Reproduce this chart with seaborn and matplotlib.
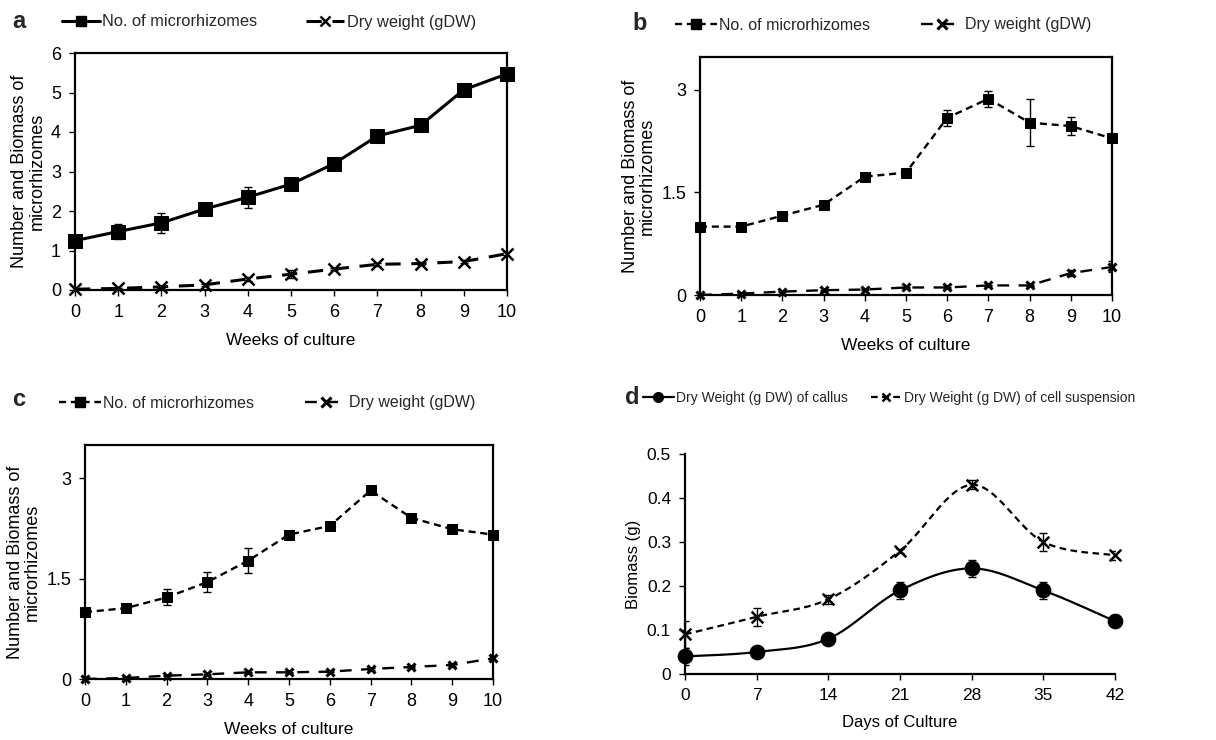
import numpy as np
import pandas as pd
import seaborn as sns
import matplotlib.pyplot as plt
from matplotlib.lines import Line2D

weeks = list(range(11))

# panel a
a_count = [1.25, 1.48, 1.70, 2.05, 2.35, 2.68, 3.20, 3.90, 4.17, 5.07, 5.47]
a_count_err = [0.05, 0.18, 0.25, 0.10, 0.27, 0.10, 0.05, 0.05, 0.05, 0.05, 0.05]
a_dw = [0.02, 0.04, 0.08, 0.13, 0.28, 0.40, 0.53, 0.65, 0.67, 0.72, 0.92]
a_dw_err = [0.01, 0.01, 0.02, 0.02, 0.05, 0.10, 0.03, 0.03, 0.03, 0.03, 0.03]

# panel b
b_count = [1.00, 1.00, 1.16, 1.32, 1.73, 1.79, 2.59, 2.87, 2.52, 2.47, 2.29]
b_count_err = [0.02, 0.02, 0.05, 0.05, 0.06, 0.05, 0.12, 0.12, 0.34, 0.13, 0.03]
b_dw = [0.00, 0.02, 0.05, 0.07, 0.08, 0.11, 0.11, 0.14, 0.14, 0.32, 0.41]
b_dw_err = [0.0, 0.01, 0.01, 0.01, 0.01, 0.01, 0.01, 0.01, 0.01, 0.04, 0.08]

# panel c
c_count = [1.00, 1.06, 1.22, 1.45, 1.77, 2.16, 2.29, 2.82, 2.41, 2.24, 2.16]
c_count_err = [0.02, 0.02, 0.12, 0.15, 0.19, 0.02, 0.02, 0.02, 0.02, 0.02, 0.02]
c_dw = [0.00, 0.015, 0.05, 0.07, 0.10, 0.10, 0.11, 0.15, 0.18, 0.21, 0.31]
c_dw_err = [0.0, 0.01, 0.01, 0.01, 0.01, 0.01, 0.01, 0.01, 0.01, 0.01, 0.01]

# panel d
days = [0, 7, 14, 21, 28, 35, 42]
d_callus = [0.04, 0.05, 0.08, 0.19, 0.24, 0.19, 0.12]
d_callus_err = [0.02, 0.005, 0.005, 0.02, 0.02, 0.02, 0.005]
d_susp = [0.09, 0.13, 0.17, 0.28, 0.43, 0.30, 0.27]
d_susp_err = [0.03, 0.02, 0.01, 0.005, 0.01, 0.02, 0.01]

sns.set_theme(style='ticks')
plt.rcParams['font.family'] = ['Liberation Sans', 'DejaVu Sans']

fig = plt.figure(figsize=(12.16, 7.4), dpi=100)
W, H = 1216, 740


def add_axes(l, t, r, b):
    return fig.add_axes([l / W, 1 - b / H, (r - l) / W, (b - t) / H])


def smooth(x, y, n=30):
    # Bezier smoothing like spreadsheet "smoothed line"
    p = np.column_stack([x, y]).astype(float)
    pts = np.vstack([p[0], p, p[-1]])
    out = []
    t = np.linspace(0, 1, n)[:, None]
    for i in range(1, len(pts) - 2):
        p0, p1, p2, p3 = pts[i - 1], pts[i], pts[i + 1], pts[i + 2]
        c1 = p1 + (p2 - p0) / 6
        c2 = p2 - (p3 - p1) / 6
        seg = (1 - t) ** 3 * p1 + 3 * (1 - t) ** 2 * t * c1 + 3 * (1 - t) * t ** 2 * c2 + t ** 3 * p2
        out.append(seg)
    out = np.vstack(out)
    return out[:, 0], out[:, 1]


def weeks_panel(ax, count, count_err, dw, dw_err, ymax, yticks, cstyle, dstyle, big):
    df = pd.DataFrame({'week': weeks, 'count': count, 'dw': dw})
    lw = 2.2 if big else 1.7
    sq = 10 if big else 7.5
    xm = 9 if big else 5.5
    xmw = 1.8 if big else 2.2
    ax.errorbar(weeks, count, yerr=count_err, fmt='none', ecolor='black', elinewidth=1, capsize=3, zorder=2)
    ax.errorbar(weeks, dw, yerr=dw_err, fmt='none', ecolor='black', elinewidth=1, capsize=3, zorder=2)
    sns.lineplot(data=df, x='week', y='count', ax=ax, color='black', linewidth=lw,
                 marker='s', markersize=sq, markeredgecolor='black', clip_on=False, zorder=3)
    if cstyle:
        ax.lines[-1].set_dashes(cstyle)
    sns.lineplot(data=df, x='week', y='dw', ax=ax, color='black', linewidth=lw,
                 marker='x', markersize=xm, markeredgewidth=xmw, markeredgecolor='black', clip_on=False, zorder=3)
    ax.lines[-1].set_dashes(dstyle)
    ax.set_xlim(0, 10)
    ax.set_ylim(0, ymax)
    ax.set_xticks(weeks)
    ax.set_yticks(yticks)
    ax.set_yticklabels([f'{v:g}' for v in yticks])
    ax.tick_params(labelsize=13, length=4, width=1, color='black', labelcolor='black', pad=6)
    ax.set_xlabel('Weeks of culture', fontsize=12.5, color='black', labelpad=9)
    ax.set_ylabel('Number and Biomass of\nmicrorhizomes', fontsize=13, color='black', linespacing=1.0)
    for s in ax.spines.values():
        s.set_color('black')
        s.set_linewidth(1.6)
    ax.grid(False)
    h1 = Line2D([], [], color='black', linewidth=lw, marker='s', markersize=7)
    if cstyle:
        h1.set_dashes(cstyle)
    h2 = Line2D([], [], color='black', linewidth=lw, marker='x', markersize=7, markeredgewidth=xmw)
    h2.set_dashes(dstyle)
    return h1, h2


def top_legend(handles, labels, x, y, size, hl, cs):
    fig.legend(handles, labels, loc='center left', bbox_to_anchor=(x / W, 1 - y / H), ncol=2,
               frameon=False, fontsize=size, handlelength=hl, handletextpad=0.15,
               columnspacing=cs, borderpad=0, borderaxespad=0)


# panel a
ax_a = add_axes(75, 53, 507, 290)
h1, h2 = weeks_panel(ax_a, a_count, a_count_err, a_dw, a_dw_err, 6, [0, 1, 2, 3, 4, 5, 6],
                     None, (5, 3.5), True)
top_legend([h1, h2], ['No. of microrhizomes', 'Dry weight (gDW)'], 62, 22, 11.8, 2.3, 3.0)
fig.text(12 / W, 1 - 22 / H, 'a', fontsize=17, fontweight='bold', va='center')

# panel b
ax_b = add_axes(700, 57, 1112, 295)
h1, h2 = weeks_panel(ax_b, b_count, b_count_err, b_dw, b_dw_err, 3.48, [0, 1.5, 3],
                     (3, 2), (5, 4), False)
top_legend([h1, h2], ['No. of microrhizomes', 'Dry weight (gDW)'], 675, 25, 11.5, 2.6, 3.2)
fig.text(632 / W, 1 - 24 / H, 'b', fontsize=17, fontweight='bold', va='center')

# panel c
ax_c = add_axes(85, 445, 493, 679)
h1, h2 = weeks_panel(ax_c, c_count, c_count_err, c_dw, c_dw_err, 3.5, [0, 1.5, 3],
                     (3, 2), (5, 4), False)
top_legend([h1, h2], ['No. of microrhizomes', 'Dry weight (gDW)'], 59, 403, 11.5, 2.6, 3.2)
fig.text(12 / W, 1 - 400 / H, 'c', fontsize=17, fontweight='bold', va='center')

# panel d
ax_d = add_axes(685, 454, 1115, 674)
ax_d.errorbar(days, d_callus, yerr=d_callus_err, fmt='none', ecolor='black', elinewidth=1, capsize=3, zorder=2)
ax_d.errorbar(days, d_susp, yerr=d_susp_err, fmt='none', ecolor='black', elinewidth=1, capsize=3, zorder=2)
sx, sy = smooth(days, d_callus)
ax_d.plot(sx, sy, color='black', linewidth=1.6, zorder=3)
sx, sy = smooth(days, d_susp)
ax_d.plot(sx, sy, color='black', linewidth=1.6, dashes=(3, 2), zorder=3)
ddf = pd.DataFrame({'day': days, 'callus': d_callus, 'susp': d_susp})
sns.scatterplot(data=ddf, x='day', y='callus', ax=ax_d, marker='o', s=110, color='black',
                edgecolor='black', clip_on=False, zorder=4)
sns.scatterplot(data=ddf, x='day', y='susp', ax=ax_d, marker='x', s=70, color='black',
                linewidth=1.8, clip_on=False, zorder=4)
ax_d.set_xlim(0, 42)
ax_d.set_ylim(0, 0.5)
ax_d.set_xticks(days)
ax_d.set_yticks([0, 0.1, 0.2, 0.3, 0.4, 0.5])
ax_d.set_yticklabels(['0', '0.1', '0.2', '0.3', '0.4', '0.5'])
ax_d.tick_params(labelsize=12.5, length=4, width=1, color='black', labelcolor='black', pad=6)
ax_d.set_xlabel('Days of Culture', fontsize=12, color='black', labelpad=9)
ax_d.set_ylabel('Biomass (g)', fontsize=12, color='black')
sns.despine(ax=ax_d)
for s in ['left', 'bottom']:
    ax_d.spines[s].set_color('black')
    ax_d.spines[s].set_linewidth(1.6)
h1 = Line2D([], [], color='black', linewidth=1.6, marker='o', markersize=7)
h2 = Line2D([], [], color='black', linewidth=1.6, marker='x', markersize=6, markeredgewidth=1.8, dashes=(3, 2))
top_legend([h1, h2], ['Dry Weight (g DW) of callus', 'Dry Weight (g DW) of cell suspension'],
           643, 398, 10, 2.2, 1.7)
fig.text(625 / W, 1 - 398 / H, 'd', fontsize=17, fontweight='bold', va='center')

fig.savefig('out.png', dpi=100)
